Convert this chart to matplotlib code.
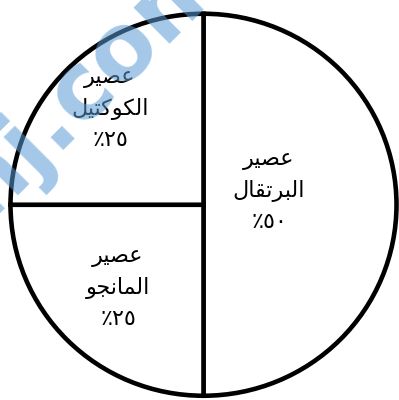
import math
import matplotlib
matplotlib.use("Agg")
import matplotlib.pyplot as plt

# ---- data ----
categories = ["عصير البرتقال", "عصير المانجو", "عصير الكوكتيل"]
values = [50, 25, 25]

# ---- minimal Arabic shaping (logical -> visual presentation forms) ----
FORMS = {
    'ع': ('\uFEC9', '\uFECA', '\uFECB', '\uFECC'),
    'ص': ('\uFEB9', '\uFEBA', '\uFEBB', '\uFEBC'),
    'ي': ('\uFEF1', '\uFEF2', '\uFEF3', '\uFEF4'),
    'ل': ('\uFEDD', '\uFEDE', '\uFEDF', '\uFEE0'),
    'ك': ('\uFED9', '\uFEDA', '\uFEDB', '\uFEDC'),
    'ت': ('\uFE95', '\uFE96', '\uFE97', '\uFE98'),
    'ب': ('\uFE8F', '\uFE90', '\uFE91', '\uFE92'),
    'ق': ('\uFED5', '\uFED6', '\uFED7', '\uFED8'),
    'م': ('\uFEE1', '\uFEE2', '\uFEE3', '\uFEE4'),
    'ن': ('\uFEE5', '\uFEE6', '\uFEE7', '\uFEE8'),
    'ج': ('\uFE9D', '\uFE9E', '\uFE9F', '\uFEA0'),
    'ر': ('\uFEAD', '\uFEAE'),
    'ا': ('\uFE8D', '\uFE8E'),
    'و': ('\uFEED', '\uFEEE'),
}


def shape_word(word):
    out = []
    n = len(word)
    for i, ch in enumerate(word):
        f = FORMS.get(ch)
        if f is None:
            out.append(ch)
            continue
        prev = word[i - 1] if i > 0 else None
        join_prev = prev in FORMS and len(FORMS[prev]) == 4
        nxt = word[i + 1] if i < n - 1 else None
        join_next = len(f) == 4 and nxt in FORMS
        if join_prev and join_next:
            g = f[3]
        elif join_prev:
            g = f[1]
        elif join_next:
            g = f[2]
        else:
            g = f[0]
        out.append(g)
    return ''.join(reversed(out))


def arabic_digits(v):
    return ''.join('٠١٢٣٤٥٦٧٨٩'[int(d)] for d in str(v))


# ---- figure ----
W, H = 399, 400
fig = plt.figure(figsize=(W / 100, H / 100), dpi=100)
ax = fig.add_axes([0, 0, 1, 1])

cx, cy, rx, ry = 203.5, 204.75, 193.0, 191.0  # pixel geometry of circle
wedges, _ = ax.pie(values, startangle=90, counterclock=False,
                   colors=['white'] * len(values),
                   wedgeprops=dict(edgecolor='black', linewidth=3.3,
                                   joinstyle='miter'))
ax.set_aspect('auto')
ax.set_xlim(-cx / rx, (W - cx) / rx)
ax.set_ylim(-(H - cy) / ry, cy / ry)
ax.axis('off')

# label centers (pixels, from top-left) of the middle line
label_pos = [(269, 191), (118, 288), (110, 109)]
line_gap = 31
fs = 16
for cat, val, (px, py) in zip(categories, values, label_pos):
    w1, w2 = cat.split(' ')
    lines = [shape_word(w1), shape_word(w2), '٪' + arabic_digits(val)]
    for k, t in enumerate(lines):
        yy = py + (k - 1) * line_gap
        fig.text(px / W, 1 - yy / H, t, ha='center', va='center',
                 fontsize=fs, color='black', family=['DejaVu Sans'])

# ---- watermark (partly outside the canvas, as in the reference) ----
wm_text = 'almanahj.com'
wm_fs = 66
wm_rot = 45
renderer = fig.canvas.get_renderer()


def _w(s):
    t = fig.text(0, 0, s, fontsize=wm_fs, fontweight='bold')
    w = t.get_window_extent(renderer).width
    t.remove()
    return w


c_mid = (_w('almanahj.') + _w('almanahj.c')) / 2
xh_half = 0.547 * wm_fs * 100 / 72 / 2
tx, ty = 82, H - 68 - 24  # empirically corrected anchor point (pixels, y up)
ux, uy = math.cos(math.radians(wm_rot)), math.sin(math.radians(wm_rot))
nx, ny = -uy, ux
ax0 = tx - c_mid * ux - xh_half * nx
ay0 = ty - c_mid * uy - xh_half * ny
fig.text(ax0 / W, ay0 / H, wm_text, rotation=wm_rot, rotation_mode='anchor',
         ha='left', va='baseline', fontsize=wm_fs, fontweight='bold',
         color='#5b9bd5', alpha=0.55, zorder=10)

fig.savefig('out.png', dpi=100, facecolor='white')
